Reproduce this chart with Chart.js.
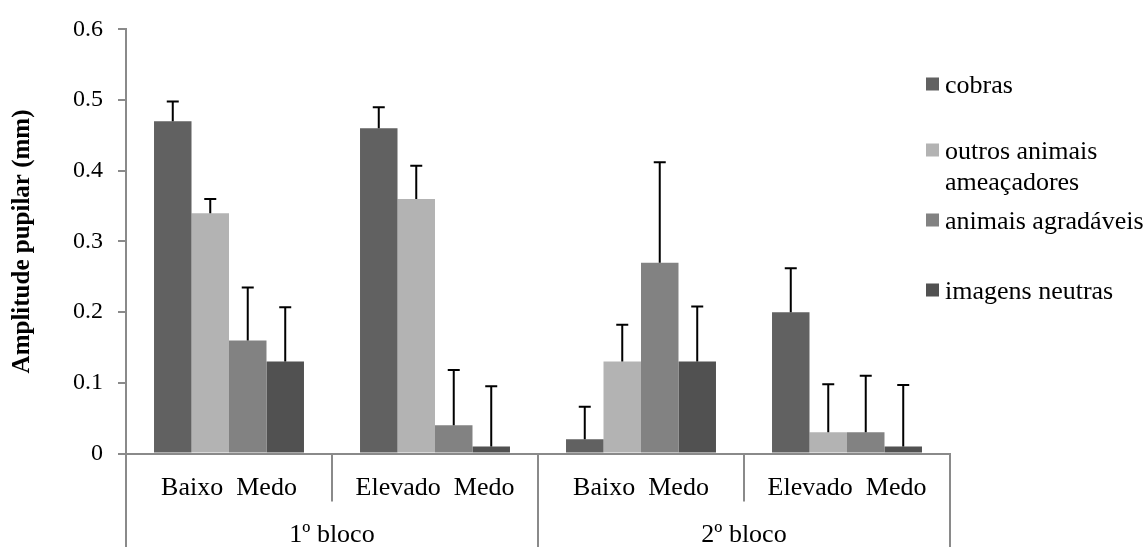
<!DOCTYPE html>
<html>
<head>
<meta charset="utf-8">
<script src="https://cdn.jsdelivr.net/npm/chart.js@4.4.1/dist/chart.umd.min.js"></script>
<style>
	html, body { margin: 0; padding: 0; background: #fff; }
	canvas { display: block; }
</style>
</head>
<body>
<canvas id="graficoPupila" width="1146" height="547"></canvas>
<script>
// categorias (nível 1) e blocos (nível 2)
const categorias = ['Baixo  Medo', 'Elevado  Medo', 'Baixo  Medo', 'Elevado  Medo'];
const blocos = ['1º bloco', '2º bloco'];
const yTicks = [0, 0.1, 0.2, 0.3, 0.4, 0.5, 0.6];

const series = ['cobras', ['outros animais', 'ameaçadores'], 'animais agradáveis', 'imagens neutras'];
const cobras = [0.47, 0.46, 0.02, 0.20];
const outrosAnimais = [0.34, 0.36, 0.13, 0.03];
const animaisAgradaveis = [0.16, 0.04, 0.27, 0.03];
const imagensNeutras = [0.13, 0.01, 0.13, 0.01];

// erros (só a parte de cima)
const erroCobras = [0.028, 0.03, 0.046, 0.062];
const erroOutros = [0.02, 0.047, 0.052, 0.068];
const erroAgradaveis = [0.075, 0.078, 0.142, 0.08];
const erroNeutras = [0.077, 0.085, 0.078, 0.087];

const cores = ['#616161', '#b3b3b3', '#828282', '#515151'];
const corEixo = '#8a8a8a';
const fonte = '"Liberation Serif", "Times New Roman", serif';

const barrasErro = {
	id: 'barrasErro',
	afterDatasetsDraw(chart) {
		const ctx = chart.ctx;
		const y = chart.scales.y;
		ctx.save();
		ctx.strokeStyle = '#000';
		ctx.lineWidth = 2;
		chart.data.datasets.forEach((ds, i) => {
			const meta = chart.getDatasetMeta(i);
			meta.data.forEach((bar, j) => {
				const topo = y.getPixelForValue(ds.data[j] + ds.erros[j]);
				ctx.beginPath();
				ctx.moveTo(bar.x, bar.y);
				ctx.lineTo(bar.x, topo);
				ctx.moveTo(bar.x - 6, topo);
				ctx.lineTo(bar.x + 6, topo);
				ctx.stroke();
			});
		});
		ctx.restore();
	}
};

const eixoX = {
	id: 'eixoX',
	afterDraw(chart) {
		const ctx = chart.ctx;
		const x = chart.scales.x;
		const area = chart.chartArea;
		const meio = (x.getPixelForValue(1) - x.getPixelForValue(0)) / 2;
		const fundo = chart.height;
		ctx.save();
		ctx.strokeStyle = corEixo;
		ctx.lineWidth = 2;
		// divisórias
		for (let i = 0; i <= categorias.length; i++) {
			const px = Math.round((i < categorias.length ? x.getPixelForValue(i) - meio : x.getPixelForValue(i - 1) + meio));
			const ate = (i % 2 === 0) ? fundo : area.bottom + 48;
			ctx.beginPath();
			ctx.moveTo(px, area.bottom);
			ctx.lineTo(px, ate);
			ctx.stroke();
		}
		ctx.fillStyle = '#000';
		ctx.textAlign = 'center';
		ctx.textBaseline = 'alphabetic';
		ctx.font = '26px ' + fonte;
		categorias.forEach((c, i) => {
			ctx.fillText(c, x.getPixelForValue(i), area.bottom + 41);
		});
		blocos.forEach((b, k) => {
			const cx = (x.getPixelForValue(2 * k) + x.getPixelForValue(2 * k + 1)) / 2;
			ctx.fillText(b, cx, area.bottom + 88);
		});
		ctx.restore();
	}
};

const legenda = {
	id: 'legenda',
	afterDraw(chart) {
		const ctx = chart.ctx;
		const posY = [84, 150, 220, 290];
		ctx.save();
		ctx.font = '26px ' + fonte;
		ctx.textAlign = 'left';
		ctx.textBaseline = 'middle';
		series.forEach((s, i) => {
			ctx.fillStyle = cores[i];
			ctx.fillRect(926, posY[i] - 6.5, 13, 13);
			ctx.fillStyle = '#000';
			const linhas = Array.isArray(s) ? s : [s];
			linhas.forEach((l, k) => ctx.fillText(l, 945, posY[i] + 2 + k * 31));
		});
		ctx.restore();
	}
};

const ctx = document.getElementById('graficoPupila').getContext('2d');

const data = {
	labels: categorias,
	datasets: [
		{ label: 'cobras', data: cobras, erros: erroCobras, backgroundColor: cores[0] },
		{ label: 'outros animais ameaçadores', data: outrosAnimais, erros: erroOutros, backgroundColor: cores[1] },
		{ label: 'animais agradáveis', data: animaisAgradaveis, erros: erroAgradaveis, backgroundColor: cores[2] },
		{ label: 'imagens neutras', data: imagensNeutras, erros: erroNeutras, backgroundColor: cores[3] },
	],
};

const config = {
	type: 'bar',
	data: data,
	options: {
		responsive: false,
		animation: false,
		devicePixelRatio: 1,
		layout: { padding: { top: 20, right: 196, bottom: 0, left: 0 } },
		datasets: {
			bar: { categoryPercentage: 0.728, barPercentage: 1, borderWidth: 0 },
		},
		plugins: {
			legend: { display: false },
			tooltip: { enabled: false },
		},
		scales: {
			x: {
				ticks: { display: false },
				grid: { display: false },
				border: { display: true, color: corEixo, width: 2 },
				afterFit(scale) { scale.height = 93.5; },
			},
			y: {
				min: 0,
				max: 0.6,
				afterBuildTicks(scale) { scale.ticks = yTicks.map(v => ({ value: v })); },
				ticks: {
					color: '#000',
					padding: 15,
					font: { family: fonte, size: 24 },
				},
				grid: { drawOnChartArea: false, tickLength: 8, color: corEixo, lineWidth: 2 },
				border: { display: true, color: corEixo, width: 2 },
				title: {
					display: true,
					text: 'Amplitude pupilar (mm)',
					color: '#000',
					font: { family: fonte, size: 25, weight: 'bold' },
					padding: { top: 8, bottom: 0 },
				},
				afterFit(scale) { scale.width = 126; },
			},
		},
	},
	plugins: [barrasErro, eixoX, legenda],
};

new Chart(ctx, config);
</script>
</body>
</html>
